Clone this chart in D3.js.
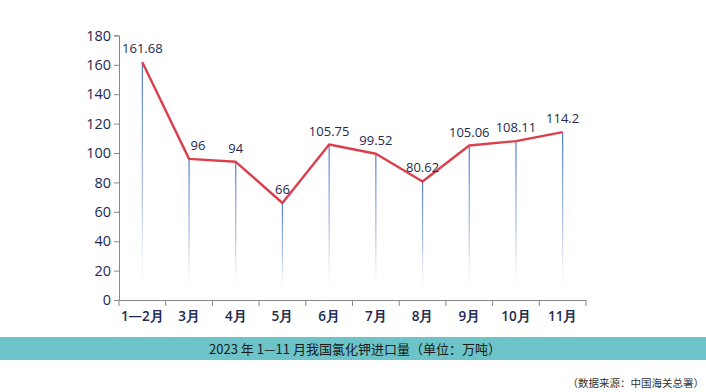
<!DOCTYPE html>
<html><head><meta charset="utf-8">
<script src="https://cdn.jsdelivr.net/npm/d3@7"></script>
<style>body{margin:0;background:#fff}svg{display:block}</style>
</head><body>
<svg id="c" width="706" height="392"></svg>
<script>
const categories = ["1—2月","3月","4月","5月","6月","7月","8月","9月","10月","11月"];
const values = [161.68,96,94,66,105.75,99.52,80.62,105.06,108.11,114.2];
const labels = ["161.68","96","94","66","105.75","99.52","80.62","105.06","108.11","114.2"];
const yTicks = [0,20,40,60,80,100,120,140,160,180];
const title = "2023 年 1—11 月我国氯化钾进口量（单位：万吨）";
const source = "（数据来源：中国海关总署）";

const svg = d3.select("#c");
const x = d3.scaleBand().domain(categories).range([119,586]);
const y = d3.scaleLinear().domain([0,180]).range([300,35.4]);
const font = "'Open Sans','Noto Sans',sans-serif";
const ink = "#1e2a50";

const defs = svg.append("defs");
const g = defs.append("linearGradient").attr("id","drop").attr("x1",0).attr("y1",0).attr("x2",0).attr("y2",1).attr("gradientUnits","objectBoundingBox");
g.append("stop").attr("offset",0).attr("stop-color","#4a78d0").attr("stop-opacity",1);
g.append("stop").attr("offset",0.6).attr("stop-color","#8fa8dc").attr("stop-opacity",0.7);
g.append("stop").attr("offset",1).attr("stop-color","#c8d4ee").attr("stop-opacity",0);

// drop lines
svg.selectAll("rect.drop").data(values).enter().append("rect")
  .attr("x",(d,i)=>x(categories[i])+x.bandwidth()/2-0.6)
  .attr("y",d=>y(d))
  .attr("width",1.2)
  .attr("height",d=>y(0)-10-y(d))
  .attr("fill","url(#drop)");

// axes
const ya = svg.append("g").attr("transform","translate(119,0)")
  .call(d3.axisLeft(y).tickValues(yTicks).tickSize(5).tickPadding(3));
ya.select(".domain").attr("stroke","#888");
ya.selectAll(".tick line").attr("stroke","#888");
ya.selectAll("text").attr("font-family",font).attr("font-size",14.5).attr("fill",ink);

const xa = svg.append("g").attr("transform","translate(0,300)")
  .call(d3.axisBottom(x).tickSize(0).tickPadding(11));
xa.select(".domain").attr("stroke","#888").attr("stroke-width",1.2);
xa.selectAll(".tick line").remove();
xa.selectAll("text").attr("font-family",font).attr("font-size",13.5).attr("fill",ink).attr("font-weight",600);
// band boundary ticks
const bounds = categories.map(c=>x(c)).concat([x.range()[1]]);
svg.append("g").selectAll("line").data(bounds).enter().append("line")
  .attr("x1",d=>d).attr("x2",d=>d).attr("y1",300).attr("y2",306)
  .attr("stroke","#888");

// line
const line = d3.line().x((d,i)=>x(categories[i])+x.bandwidth()/2).y(d=>y(d));
svg.append("path").datum(values).attr("d",line).attr("fill","none")
  .attr("stroke","#dc3f4c").attr("stroke-width",2.4).attr("stroke-linejoin","round");

// data labels
svg.selectAll("text.lbl").data(values).enter().append("text")
  .attr("x",(d,i)=>x(categories[i])+x.bandwidth()/2+(i===1?9:0))
  .attr("y",(d,i)=>y(d)-9)
  .attr("text-anchor","middle")
  .attr("font-family",font).attr("font-size",13).attr("fill",ink)
  .text((d,i)=>labels[i]);

// title band
svg.append("rect").attr("x",0).attr("y",337).attr("width",706).attr("height",23).attr("fill","#6cc4c8");
svg.append("text").attr("x",355).attr("y",354).attr("text-anchor","middle")
  .attr("font-family","'Noto Sans CJK SC',sans-serif").attr("font-size",13).attr("fill","#1a1a1a")
  .text(title);
svg.append("text").attr("x",704).attr("y",387).attr("text-anchor","end")
  .attr("font-family","'Noto Sans CJK SC',sans-serif").attr("font-size",10.5).attr("fill","#333")
  .text(source);
</script>
</body></html>
